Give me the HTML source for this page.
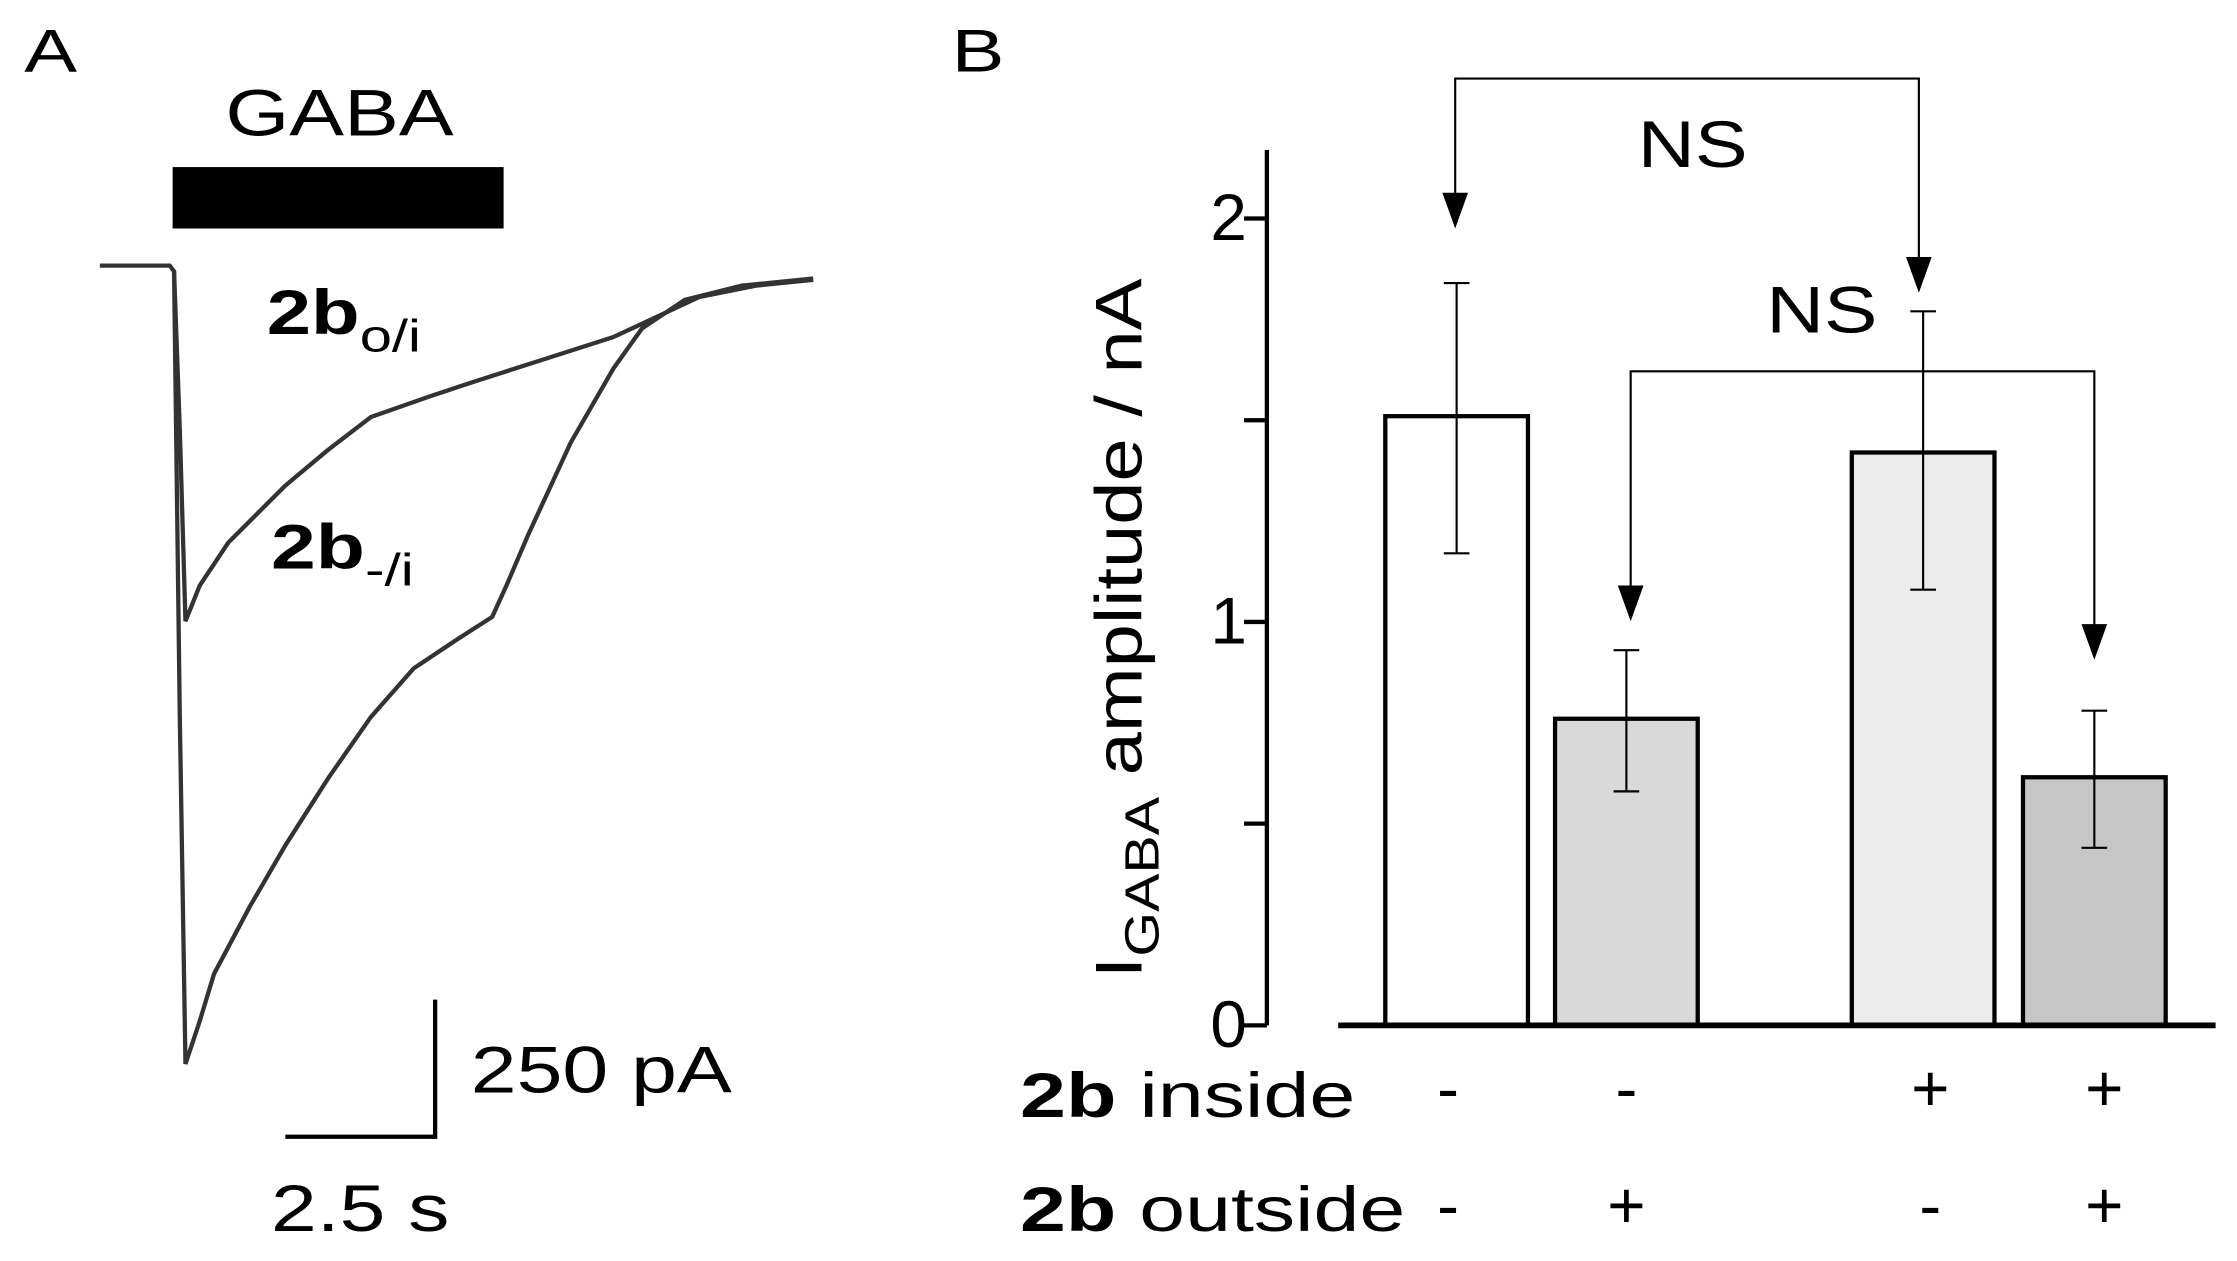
<!DOCTYPE html>
<html><head><meta charset="utf-8"><style>
html,body{margin:0;padding:0;background:#fff;}
svg{display:block;font-family:"Liberation Sans",sans-serif;}
</style></head><body>
<svg id="fig" width="2237" height="1261" viewBox="0 0 1568 883" preserveAspectRatio="none">
<g>
<text x="17" y="50" font-size="42" textLength="37" lengthAdjust="spacingAndGlyphs">A</text>
<text x="158" y="95" font-size="46" textLength="160" lengthAdjust="spacingAndGlyphs">GABA</text>
<rect x="121" y="117" width="232" height="43" fill="#000"/>
<path d="M70,186 L119,186 L122,190 L126,300 L130,435 L140,410 L160,380 L200,340 L230,315 L260,292 L300,278 L330,268 L380,252 L430,236 L460,222 L490,208 L530,200 L570,196" fill="none" stroke="#333" stroke-width="3"/>
<path d="M122,190 L126,500 L130,745 L140,715 L150,682 L175,635 L200,592 L230,545 L260,502 L290,468 L320,448 L345,432 L355,410 L370,375 L400,310 L430,258 L450,230 L480,210 L520,200 L570,195" fill="none" stroke="#333" stroke-width="3"/>
<text x="187" y="234" font-size="44" font-weight="bold" textLength="108" lengthAdjust="spacingAndGlyphs">2b<tspan font-weight="normal" font-size="32" dy="12">o/i</tspan></text>
<text x="190" y="398" font-size="44" font-weight="bold" textLength="100" lengthAdjust="spacingAndGlyphs">2b<tspan font-weight="normal" font-size="32" dy="12">-/i</tspan></text>
<path d="M305,700 L305,796 L200,796" fill="none" stroke="#000" stroke-width="3"/>
<text x="330" y="765" font-size="46" textLength="183" lengthAdjust="spacingAndGlyphs">250 pA</text>
<text x="190" y="862" font-size="46" textLength="125" lengthAdjust="spacingAndGlyphs">2.5 s</text>
</g>
<g>
<text x="667" y="50" font-size="42" textLength="37" lengthAdjust="spacingAndGlyphs">B</text>
<g id="chart"></g>
<text transform="translate(800,440) rotate(-90)" font-size="46" text-anchor="middle" textLength="490" lengthAdjust="spacingAndGlyphs">I<tspan font-size="34" dy="12">GABA</tspan><tspan dy="-12"> amplitude / nA</tspan></text>
<text x="715" y="782" font-size="44" textLength="235" lengthAdjust="spacingAndGlyphs"><tspan font-weight="bold">2b</tspan> inside</text>
<text x="715" y="862" font-size="44" textLength="270" lengthAdjust="spacingAndGlyphs"><tspan font-weight="bold">2b</tspan> outside</text>
<path d="M1020,150 L1020,55 L1345,55 L1345,195" fill="none" stroke="#000" stroke-width="1.5"/>
<polygon points="1011,135 1029,135 1020,160"/>
<polygon points="1336,180 1354,180 1345,205"/>
<text x="1148" y="117" font-size="46" textLength="77" lengthAdjust="spacingAndGlyphs">NS</text>
<path d="M1143,420 L1143,260 L1468,260 L1468,445" fill="none" stroke="#000" stroke-width="1.5"/>
<polygon points="1134,410 1152,410 1143,435"/>
<polygon points="1459,437 1477,437 1468,462"/>
<text x="1238" y="233" font-size="46" textLength="78" lengthAdjust="spacingAndGlyphs">NS</text>
</g>
</svg>
<script>
const categories = ["-/-", "-/+", "+/-", "+/+"];
const means = [1.51, 0.76, 1.42, 0.615];
const errHigh = [1.84, 0.93, 1.77, 0.78];
const errLow = [1.17, 0.58, 1.08, 0.44];
const insideSigns = ["-", "-", "+", "+"];
const outsideSigns = ["-", "+", "-", "+"];
const yTicks = [0, 0.5, 1, 1.5, 2];
const yTickLabels = ["0", "", "1", "", "2"];
const fills = ["#ffffff", "#d9d9d9", "#ececec", "#c6c6c6"];
const centers = [1021, 1140, 1348, 1468];
const signOffsets = [-6, 0, 5, 7];
const NS = "http://www.w3.org/2000/svg";
const g = document.getElementById("chart");
const y = v => 718 - v * 282.5;
function mk(t, a){const e=document.createElementNS(NS,t);for(const k in a)e.setAttribute(k,a[k]);g.appendChild(e);return e;}
const ax = mk("line",{x1:888,y1:105,x2:888,y2:718,stroke:"#000","stroke-width":3});


yTicks.forEach((t,i)=>{
  const l = mk("line",{x1:872,y1:y(t),x2:888,y2:y(t),stroke:"#000","stroke-width":3});
  
  
  if(yTickLabels[i]){
    const tx = mk("text",{x:874,y:y(t)+15,"font-size":46,"text-anchor":"end"});
    tx.textContent = yTickLabels[i];
    
    
  }
});
categories.forEach((c,i)=>{
  const cx = centers[i];
  const r = mk("rect",{x:cx-50,y:y(means[i]),width:100,height:718-y(means[i]),fill:fills[i],stroke:"#000","stroke-width":3});
  
  
  const e = mk("path",{d:`M${cx},${y(errHigh[i])}L${cx},${y(errLow[i])}M${cx-9},${y(errHigh[i])}L${cx+9},${y(errHigh[i])}M${cx-9},${y(errLow[i])}L${cx+9},${y(errLow[i])}`,stroke:"#000","stroke-width":1.5,fill:"none"});
  
  
  const sx = cx + signOffsets[i];
  const s1 = mk("text",{x:sx,y:778,"font-size":46,"text-anchor":"middle"});
  s1.textContent = insideSigns[i];
  
  
  const s2 = mk("text",{x:sx,y:860,"font-size":46,"text-anchor":"middle"});
  s2.textContent = outsideSigns[i];
  
  
});
const xa = mk("line",{x1:938,y1:718,x2:1553,y2:718,stroke:"#000","stroke-width":4});


</script>
</body></html>
